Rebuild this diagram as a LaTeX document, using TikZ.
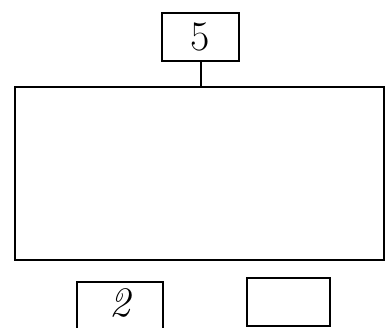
\documentclass[tikz,border=0pt]{standalone}
\usepackage{fontspec}
\usetikzlibrary{positioning}
\tikzset{
    box/.style = {draw, line width=2pt, inner sep=0pt, font=\fontsize{42}{42}\selectfont},
}
\begin{document}
\begin{tikzpicture}[x=1pt,y=-1pt]
        \useasboundingbox (0,0) rectangle (385,328);
        \node[box, minimum width=77pt, minimum height=48pt] (five) at (200.5,37) {5};
        \node[box, minimum width=369pt, minimum height=173pt] (panel) at (199.5,173.5) {};
        \node[box, minimum width=86pt, minimum height=52pt] (two) at (120,308) {};
        \node[font=\fontsize{42}{42}\itshape\selectfont] (twotext) at (120,303) {2};
        \node[box, minimum width=83pt, minimum height=48pt] (blank) at (288.5,302) {};
        
        \draw[line width=2pt] (five.south) -- (five.south |- panel.north);
    \end{tikzpicture}
\end{document}
